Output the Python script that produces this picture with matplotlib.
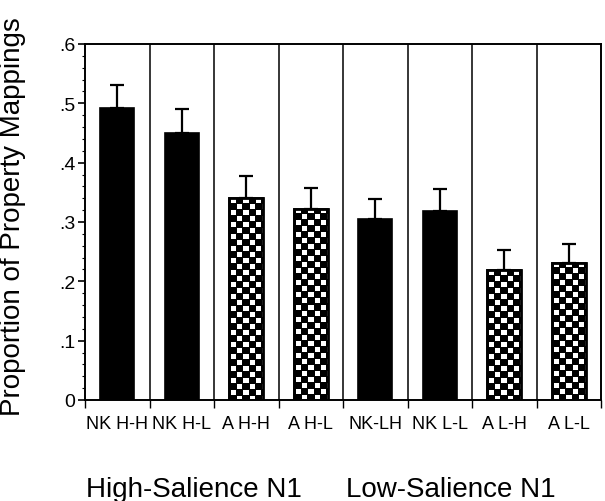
import numpy as np
import matplotlib
matplotlib.use("Agg")
import matplotlib.pyplot as plt

plt.rcParams['font.family'] = ['Liberation Sans', 'DejaVu Sans']

# bar data
labels = ["NK H-H", "NK H-L", "A H-H", "A H-L", "NK-LH", "NK L-L", "A L-H", "A L-L"]
means = [0.492, 0.450, 0.340, 0.322, 0.305, 0.318, 0.219, 0.231]
err_tops = [0.531, 0.490, 0.378, 0.358, 0.338, 0.356, 0.252, 0.263]
checkered = [False, False, True, True, False, False, True, True]
yticks = [0, 0.1, 0.2, 0.3, 0.4, 0.5, 0.6]
ytick_labels = ["0", ".1", ".2", ".3", ".4", ".5", ".6"]
group_labels = ["High-Salience N1", "Low-Salience N1"]

fig = plt.figure(figsize=(6.05, 5.02), dpi=100)
ax = fig.add_axes([85 / 605, 1 - 401 / 502, 516 / 605, 356 / 502])

n = len(means)
x = np.arange(n) + 0.5
width = 0.53
ax.set_xlim(0, n)
ax.set_ylim(0, 0.6)

bars = ax.bar(x, means, width=width, color="black", edgecolor="black",
              linewidth=1.2, zorder=2)

# checkered fill for the "A" bars, an image clipped to the bar
px_per_x = 516 / n
px_per_y = 356 / 0.6
for bar, chk in zip(bars, checkered):
    if not chk:
        continue
    x0 = bar.get_x()
    h = bar.get_height()
    w_px = int(round(width * px_per_x))
    h_px = int(round(h * px_per_y))
    yy, xx = np.mgrid[0:h_px, 0:w_px]
    cell = 6
    white = ((((xx - 2) // cell) + (yy // cell)) % 2 == 0) & ((xx - 2) % cell < 5) & (yy % cell < 5)
    arr = np.where(white, 1.0, 0.0)
    im = ax.imshow(arr, cmap="gray", vmin=0, vmax=1, extent=(x0, x0 + width, 0, h),
                   aspect="auto", interpolation="nearest", origin="upper", zorder=2.5)
    im.set_clip_path(bar)
    ax.bar(bar.get_x() + width / 2, h, width=width, fill=False, edgecolor="black",
           linewidth=2.0, zorder=2.6)

ax.set_xlim(0, n)
ax.set_ylim(0, 0.6)

up = np.array(err_tops) - np.array(means)
ax.errorbar(x, means, yerr=[np.zeros(n), up], fmt="none", ecolor="black",
            elinewidth=1.6, capsize=5, capthick=1.6, zorder=3)

# separators between conditions
for b in range(1, n):
    ax.axvline(b, color="black", linewidth=1.1, zorder=1)

for s in ax.spines.values():
    s.set_linewidth(1.4)

ax.set_yticks(yticks)
ax.set_yticklabels(ytick_labels, fontsize=14)
ax.set_yticks(np.arange(0, 0.601, 0.02), minor=True)
ax.tick_params(axis="y", which="major", direction="out", length=5, width=1.2, pad=2)
ax.tick_params(axis="y", which="minor", direction="out", length=2.5, width=0.8)

ax.set_xticks(np.arange(0, n + 1), minor=True)
ax.set_xticks(x)
ax.set_xticklabels(labels, fontsize=13)
ax.tick_params(axis="x", which="major", length=0, pad=11)
ax.tick_params(axis="x", which="minor", direction="out", length=6, width=1.0)

fig.text(13 / 605, 1 - 217 / 502, "Proportion of Property Mappings", rotation=90,
         ha="center", va="center", fontsize=20)
fig.text(194 / 605, 1 - 497 / 502, group_labels[0], ha="center", va="baseline", fontsize=20)
fig.text(451 / 605, 1 - 497 / 502, group_labels[1], ha="center", va="baseline", fontsize=20)

fig.savefig("out.png", dpi=100)
